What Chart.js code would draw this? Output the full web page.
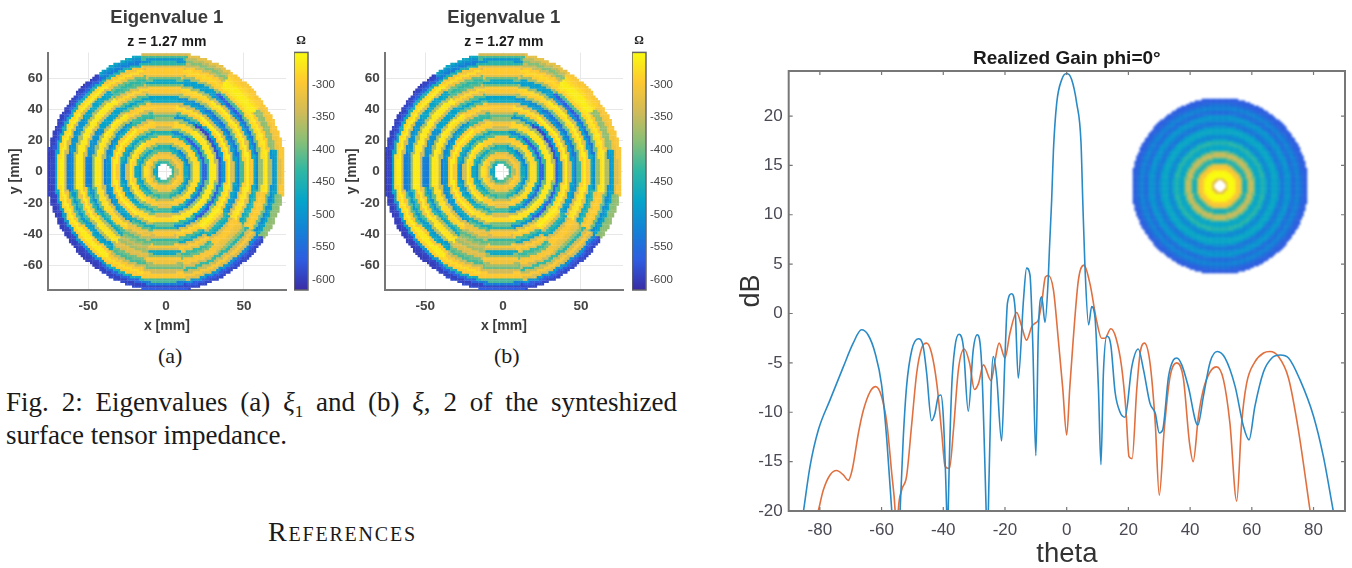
<!DOCTYPE html>
<html lang="en">
<head>
  <meta charset="UTF-8">
  <title>Eigenvalues and Realized Gain</title>
  <script src="https://cdn.jsdelivr.net/npm/chart.js"></script>
  <style>
    html, body {
      margin: 0;
      padding: 0;
      width: 1352px;
      height: 568px;
      overflow: hidden;
      background: #fff;
    }
    canvas {
      position: absolute;
      filter: blur(0.45px);
    }
    #inset {
      filter: blur(1px);
    }
    .txt {
      position: absolute;
      font-family: "Liberation Serif", serif;
      color: #1a1a1a;
      white-space: nowrap;
    }
    #caption {
      position: absolute;
      left: 6px;
      top: 386px;
      width: 671px;
      font-family: "Liberation Serif", serif;
      font-size: 27px;
      line-height: 33px;
      color: #1a1a1a;
      text-align: justify;
    }
    #caption .line1 {
      display: block;
      white-space: nowrap;
      text-align-last: justify;
    }
    #caption sub {
      font-size: 17px;
      line-height: 0;
    }
  </style>
</head>
<body>
  <canvas id="heatA" style="left:0;top:0;width:292px;height:335px"></canvas>
  <canvas id="barA" style="left:294px;top:0;width:46px;height:335px"></canvas>
  <canvas id="heatB" style="left:337.4px;top:0;width:292px;height:335px"></canvas>
  <canvas id="barB" style="left:631.5px;top:0;width:46px;height:335px"></canvas>
  <canvas id="gain" style="left:720px;top:0;width:632px;height:568px"></canvas>
  <canvas id="inset" style="left:1130px;top:96px;width:180px;height:180px"></canvas>

  <div class="txt" style="left:158px;top:343px;font-size:22px">(a)</div>
  <div class="txt" style="left:494px;top:343px;font-size:22px">(b)</div>
  <div id="caption">
    <span class="line1">Fig. 2: Eigenvalues (a) <i>ξ</i><sub>1</sub> and (b) <i>ξ</i>, 2 of the synteshized</span>
    surface tensor impedance.
  </div>
  <div class="txt" style="left:268px;top:516px;font-size:28px;letter-spacing:1.8px;font-variant:small-caps">References</div>

  <script>
    // radial profiles of the impedance (ohm), one per direction, 2 mm bins from the centre
    const profileE   = [null,null,null,-440,-370,-300,-320,-470,-510,-380,-275,-280,-440,-560,-420,-270,-265,-350,-570,-500,-300,-262,-330,-480,-530,-420,-290,-262,-300,-470,-510,-380,-275,-265,-360,-500,-480,-330,-300];
    const profileENE = [null,null,null,-430,-360,-300,-325,-470,-515,-380,-278,-285,-445,-565,-425,-272,-266,-360,-580,-490,-295,-262,-335,-490,-535,-410,-288,-263,-320,-485,-540,-400,-282,-268,-300,-380,-380,-310,-300];
    const profileNE  = [null,null,null,-420,-350,-300,-330,-470,-520,-380,-280,-290,-450,-570,-430,-275,-268,-370,-590,-480,-290,-262,-340,-500,-540,-400,-285,-265,-340,-500,-570,-420,-290,-270,-262,-265,-280,-290,-300];
    const profileNNE = [null,null,null,-425,-360,-302,-330,-445,-480,-370,-290,-300,-440,-510,-390,-285,-285,-375,-500,-415,-298,-278,-340,-485,-510,-375,-292,-282,-370,-485,-485,-370,-292,-282,-296,-350,-390,-355,-320];
    const profileN   = [null,null,null,-430,-370,-305,-330,-420,-440,-360,-300,-310,-430,-450,-350,-300,-310,-380,-410,-350,-305,-295,-340,-470,-480,-350,-300,-300,-400,-470,-400,-320,-295,-295,-330,-440,-500,-420,-340];
    const profileNNW = [null,null,null,-445,-375,-302,-310,-410,-455,-380,-292,-290,-415,-465,-385,-295,-288,-340,-435,-425,-338,-288,-302,-410,-480,-415,-320,-285,-332,-415,-435,-400,-312,-280,-308,-450,-530,-505,-470];
    const profileNW  = [null,null,null,-460,-380,-300,-290,-400,-470,-400,-285,-270,-400,-480,-420,-290,-265,-300,-460,-500,-370,-280,-265,-350,-480,-480,-340,-270,-265,-360,-470,-480,-330,-265,-285,-460,-560,-590,-600];
    const profileWNW = [null,null,null,-470,-365,-295,-282,-390,-485,-435,-288,-268,-370,-495,-455,-295,-264,-305,-480,-515,-360,-275,-265,-370,-505,-500,-340,-268,-265,-365,-495,-505,-335,-264,-282,-470,-575,-595,-595];
    const profileW   = [null,null,null,-480,-350,-290,-275,-380,-500,-470,-290,-265,-340,-510,-490,-300,-262,-310,-500,-530,-350,-270,-265,-390,-530,-520,-340,-265,-265,-370,-520,-530,-340,-262,-280,-480,-590,-600,-590];
    const profileWSW = [null,null,null,-465,-355,-295,-282,-385,-485,-450,-290,-268,-355,-495,-470,-295,-264,-310,-485,-510,-345,-275,-278,-405,-500,-440,-308,-266,-312,-430,-495,-415,-302,-264,-285,-490,-590,-600,-595];
    const profileSW  = [null,null,null,-450,-360,-300,-290,-390,-470,-430,-290,-270,-370,-480,-450,-290,-265,-310,-470,-490,-340,-280,-290,-420,-470,-360,-275,-268,-360,-490,-470,-300,-265,-265,-290,-500,-590,-600,-600];
    const profileSSW = [null,null,null,-435,-375,-305,-305,-390,-440,-390,-295,-295,-395,-455,-390,-285,-275,-355,-455,-410,-320,-310,-360,-410,-385,-350,-372,-324,-330,-400,-420,-350,-302,-280,-295,-460,-560,-595,-585];
    const profileS   = [null,null,null,-420,-390,-310,-320,-390,-410,-350,-300,-320,-420,-430,-330,-280,-285,-400,-440,-330,-300,-340,-430,-400,-305,-340,-470,-380,-300,-310,-370,-400,-340,-295,-300,-420,-530,-590,-570];
    const profileSSE = [null,null,null,-410,-360,-300,-315,-410,-450,-360,-290,-300,-445,-490,-350,-272,-275,-430,-500,-345,-285,-300,-420,-470,-340,-295,-320,-430,-400,-305,-300,-340,-430,-350,-300,-330,-500,-570,-590];
    const profileSE  = [null,null,null,-400,-330,-290,-310,-430,-490,-370,-275,-285,-470,-540,-380,-265,-280,-480,-570,-390,-275,-262,-280,-340,-440,-470,-340,-300,-295,-310,-320,-380,-440,-340,-300,-340,-510,-570,-590];
    const profileESE = [null,null,null,-420,-350,-295,-315,-450,-500,-375,-278,-280,-460,-550,-400,-268,-268,-400,-560,-440,-285,-265,-320,-480,-500,-340,-275,-268,-320,-470,-440,-310,-290,-300,-400,-510,-480,-390,-380];
    const sectors = [profileE, profileENE, profileNE, profileNNE, profileN, profileNNW, profileNW, profileWNW,
                     profileW, profileWSW, profileSW, profileSSW, profileS, profileSSE, profileSE, profileESE];

    // same idea for the small inset, colour position 0..1
    const insetProfile = [null,null,null,0.8,1,1,1,0.95,0.86,0.85,0.6,0.42,0.55,0.72,0.74,0.6,0.4,0.38,0.42,0.5,0.4,0.28,0.28,0.36,0.4,0.38,0.3,0.2,0.24,0.3,0.34,0.27,0.18,0.22,0.27,0.22,0.17,0.14,0.13];

    const heatXTicks = [-50, 0, 50];
    const heatYTicks = [-60, -40, -20, 0, 20, 40, 60];
    const barTicks = [-600, -550, -500, -450, -400, -350, -300];
    const barRange = [-616, -250];
    const parula = ['#3a2ca5','#2f5ce0','#1481d6','#06a4ca','#2eb7a4','#87bf77','#d1bb59','#fec832','#f9fb0e'];

    const gainXTicks = [-80, -60, -40, -20, 0, 20, 40, 60, 80];
    const gainYTicks = [-20, -15, -10, -5, 0, 5, 10, 15, 20];

    const blueTheta = [-85.3,-83.2,-80.5,-76.7,-72.4,-69.2,-66.5,-64.3,-62.1,-60,-58.3,-56.7,-55.4,-54,-53,-51.9,-50.2,-48.1,-46.5,-45.4,-43.8,-42.7,-41.6,-40.8,-40,-38.9,-38.6,-38.4,-37.3,-36.2,-34.9,-33.5,-31.9,-30.3,-29,-27.6,-26.1,-25.7,-25.4,-24.5,-23.8,-22.7,-21.1,-20,-19.2,-17.8,-16.7,-15.7,-14,-13,-11.9,-11,-10,-9.2,-8.1,-7.03,-5.95,-5.6,-4.87,-4.3,-3.24,-1.6,0,1.6,3.24,4.64,5.2,5.9,7.1,8.1,9.2,10.3,11.1,11.9,13,14.3,15.7,17.3,18.9,21.1,23.2,24.9,27,28.7,30,31.1,33,34.6,35.7,37.3,39.4,42.5,44.3,46.5,48.8,51.3,54.6,57.3,59.1,61,63.8,66.5,69.2,71.9,75.6,80,83.2,86.4];
    const blueGain  = [-20,-15.5,-11.8,-8.75,-5.4,-3,-1.65,-2.2,-4,-7.2,-12.8,-20,-26,-20,-12.8,-7.4,-3.7,-2.55,-3.35,-6,-10.85,-10.1,-8.4,-8.25,-10.4,-20,-24,-20,-7.7,-3.35,-2.1,-3.35,-9.9,-3.7,-2.15,-5,-20,-25,-20,-7.7,-4.35,-6.4,-12.9,-4.35,1.05,2,0.4,-6.55,1.4,4.6,3.9,-3,-14.4,-2,1.7,-0.9,3.75,6.5,11.5,16.5,21.3,23.7,24.3,23.7,21.3,17.3,11.5,4.9,-1.15,0.7,-0.5,-7.7,-15.3,-6,-2.3,-3.2,-8,-10,-10.5,-5.4,-3.6,-5.7,-9.1,-10.1,-12.1,-11.8,-6.4,-4.7,-4.5,-5.2,-7.4,-11.3,-8.4,-4.9,-3.85,-4.5,-7.4,-11.45,-12.8,-9.4,-5.9,-4.5,-4.2,-4.5,-6.7,-10.4,-14.5,-20];

    const redTheta = [-80.5,-78.9,-76.7,-74.6,-72.4,-70.8,-69.5,-67.5,-65.9,-63.7,-61.9,-60,-58.3,-56.7,-55.6,-55.1,-54.6,-53.5,-51.9,-50.2,-48.6,-47,-45.4,-43.8,-42.1,-40.5,-39.4,-38,-36.7,-35.1,-33.2,-31.5,-29.9,-28.6,-27,-24.5,-23.2,-21.9,-20,-18.4,-16.2,-14.6,-13,-11.3,-10.3,-9.2,-8.1,-6.9,-5.95,-4.3,-2.7,-1.3,0,1,2.1,3.8,5.6,7.55,9.7,11.3,12.4,14.3,16,17.8,19.2,20.2,21.2,22.7,23.8,25.2,27,28.7,30,31.6,33.5,35.7,37.8,39.8,41,42.7,44.3,46.5,48.6,50.8,52.9,55.1,56.7,58.3,61,63.8,65.9,68.6,71.9,75.1,78.9];
    const redGain  = [-20,-17.9,-16.35,-15.9,-16.35,-16.9,-15.8,-12.1,-9.8,-7.9,-7.4,-8.4,-11.1,-16.2,-20,-24,-20,-17.9,-16.5,-11.1,-6,-3.5,-3,-4,-7.1,-12.1,-15.5,-15.7,-11.8,-5.7,-3.6,-5,-7.7,-7.1,-5.2,-6.8,-4.7,-3,-4.5,-2,0.1,-1.3,-2.7,-1.3,-1,-0.65,1.05,3.7,3.85,2.4,-2.7,-7.5,-12.3,-7.5,-2.7,3.4,4.9,3,-0.75,-2.5,-2.5,-1.55,-2.5,-5.4,-9.8,-14.5,-14.7,-7.7,-4,-3,-5,-11.1,-18.4,-11.8,-6.4,-5,-6.55,-13.1,-15,-10.4,-7.7,-5.9,-5.4,-6.7,-11.1,-19,-11.1,-7.1,-4.9,-4,-3.85,-4.35,-6.55,-11.8,-20];

    const CELL = 1.5;         // mm, size of a map cell
    const DISC = 76.5;        // mm, disc radius
    const RING_SHIFT = -1;    // mm, rings sit a bit left of the disc centre

    function hexToRgb(h) {
      return [1, 3, 5].map(i => parseInt(h.slice(i, i + 2), 16));
    }
    function parulaColor(t) {
      t = Math.min(1, Math.max(0, t));
      const p = t * (parula.length - 1);
      const i = Math.min(parula.length - 2, Math.floor(p));
      const a = hexToRgb(parula[i]), b = hexToRgb(parula[i + 1]);
      const f = p - i;
      return `rgb(${a.map((v, k) => Math.round(v + (b[k] - v) * f)).join(',')})`;
    }

    // map cells, each one looks its value up in the profile of its direction
    function heatCells() {
      const points = [], colors = [];
      for (let x = -75; x <= 75; x += CELL) {
        for (let y = -75; y <= 75; y += CELL) {
          if (Math.hypot(x, y) > DISC) continue;
          const dx = x - RING_SHIFT;
          const r = Math.hypot(dx, y);
          const sector = (Math.round(Math.atan2(y, dx) / (Math.PI / 8)) + 16) % 16;
          const v = sectors[sector][Math.min(38, Math.round(r / 2))];
          if (v === null) continue;
          points.push({ x, y });
          colors.push(parulaColor((v - barRange[0]) / (barRange[1] - barRange[0])));
        }
      }
      return { points, colors };
    }
    function insetCells() {
      const points = [], colors = [];
      for (let x = -75; x <= 75; x += CELL) {
        for (let y = -75; y <= 75; y += CELL) {
          const r = Math.hypot(x, y);
          if (r > DISC) continue;
          const v = insetProfile[Math.min(38, Math.round(r / 2))];
          if (v === null) continue;
          points.push({ x, y });
          colors.push(parulaColor(v));
        }
      }
      return { points, colors };
    }

    // matlab style box with inward ticks
    const framePlugin = {
      id: 'frame',
      afterDatasetsDraw(chart, args, opts) {
        if (!opts.color) return;
        const { ctx, chartArea: a, scales } = chart;
        ctx.save();
        ctx.strokeStyle = opts.color;
        ctx.lineWidth = opts.width;
        ctx.strokeRect(a.left, a.top, a.right - a.left, a.bottom - a.top);
        const len = opts.tick;
        ctx.lineWidth = 1.2;
        ctx.beginPath();
        if (len) {
          scales.x.ticks.forEach(t => {
            const px = scales.x.getPixelForValue(t.value);
            ctx.moveTo(px, a.top); ctx.lineTo(px, a.top + len);
            ctx.moveTo(px, a.bottom); ctx.lineTo(px, a.bottom - len);
          });
          scales.y.ticks.forEach(t => {
            const py = scales.y.getPixelForValue(t.value);
            ctx.moveTo(a.left, py); ctx.lineTo(a.left + len, py);
            ctx.moveTo(a.right, py); ctx.lineTo(a.right - len, py);
          });
        }
        ctx.stroke();
        ctx.restore();
      }
    };

    const sans = '"Liberation Sans", Arial, sans-serif';
    const cells = heatCells();

    function makeHeat(id) {
      return new Chart(document.getElementById(id), {
        type: 'scatter',
        data: {
          datasets: [{
            data: cells.points,
            backgroundColor: cells.colors,
            borderWidth: 0,
            pointStyle: 'rect',
            pointRadius: 1.9,
            pointHoverRadius: 1.9
          }]
        },
        options: {
          responsive: false,
          animation: false,
          layout: { padding: { right: 6 } },
          plugins: {
            legend: { display: false },
            tooltip: { enabled: false },
            title: {
              display: true,
              fullSize: false,
              text: 'Eigenvalue 1',
              color: '#3a3a3a',
              font: { family: sans, size: 18.5, weight: 'bold' },
              padding: { top: 7, bottom: 4.4 }
            },
            subtitle: {
              display: true,
              fullSize: false,
              text: 'z = 1.27 mm',
              color: '#1a1a1a',
              font: { family: sans, size: 14, weight: 'bold' },
              padding: { top: 0, bottom: 2.1 }
            }
          },
          scales: {
            x: {
              type: 'linear',
              min: -76,
              max: 77,
              afterBuildTicks(s) { s.ticks = heatXTicks.map(value => ({ value })); },
              afterFit(s) { s.height = 45; },
              grid: { color: '#e8e8e8', drawTicks: false },
              border: { color: '#777', width: 2 },
              ticks: { color: '#444', padding: 8, maxRotation: 0, autoSkip: false, font: { family: sans, size: 13.5, weight: 'bold' } },
              title: { display: true, text: 'x [mm]', color: '#3a3a3a', padding: { top: 4.6, bottom: 0 }, font: { family: sans, size: 14, weight: 'bold' } }
            },
            y: {
              type: 'linear',
              min: -75.8,
              max: 76.4,
              afterBuildTicks(s) { s.ticks = heatYTicks.map(value => ({ value })); },
              afterFit(s) { s.width = 47.7; },
              grid: { color: '#e8e8e8', drawTicks: false },
              border: { color: '#777', width: 2 },
              ticks: { color: '#444', padding: 5, autoSkip: false, font: { family: sans, size: 13.5, weight: 'bold' } },
              title: { display: true, text: 'y [mm]', color: '#3a3a3a', padding: { top: 6.6, bottom: 0 }, font: { family: sans, size: 14, weight: 'bold' } }
            }
          }
        }
      });
    }

    function makeBar(id) {
      return new Chart(document.getElementById(id), {
        type: 'bar',
        data: {
          labels: [''],
          datasets: [{
            data: [barRange],
            barPercentage: 1,
            categoryPercentage: 1,
            borderWidth: 0,
            backgroundColor(ctx) {
              const a = ctx.chart.chartArea;
              if (!a) return parula[0];
              const g = ctx.chart.ctx.createLinearGradient(0, a.bottom, 0, a.top);
              parula.forEach((c, i) => g.addColorStop(i / (parula.length - 1), c));
              return g;
            }
          }]
        },
        plugins: [framePlugin],
        options: {
          responsive: false,
          animation: false,
          layout: { padding: { bottom: 45 } },
          plugins: {
            legend: { display: false },
            tooltip: { enabled: false },
            frame: { color: '#666', width: 1.5, tick: 0 },
            title: {
              display: true,
              fullSize: false,
              text: 'Ω',
              color: '#222',
              font: { family: '"Liberation Serif", serif', size: 12, weight: 'bold' },
              padding: { top: 34, bottom: 4 }
            }
          },
          scales: {
            x: { display: false },
            y: {
              position: 'right',
              min: barRange[0],
              max: barRange[1],
              afterBuildTicks(s) { s.ticks = barTicks.map(value => ({ value })); },
              afterFit(s) { s.width = 32; },
              grid: { display: false, drawTicks: false },
              border: { display: false },
              ticks: { color: '#444', padding: 4, autoSkip: false, font: { family: sans, size: 11.5 } }
            }
          }
        }
      });
    }

    makeHeat('heatA');
    makeBar('barA');
    makeHeat('heatB');
    makeBar('barB');

    new Chart(document.getElementById('gain'), {
      type: 'scatter',
      data: {
        datasets: [
          {
            data: blueTheta.map((x, i) => ({ x, y: blueGain[i] })),
            showLine: true,
            borderColor: '#2a8ac6',
            borderWidth: 1.6,
            pointRadius: 0,
            cubicInterpolationMode: 'monotone'
          },
          {
            data: redTheta.map((x, i) => ({ x, y: redGain[i] })),
            showLine: true,
            borderColor: '#e0703f',
            borderWidth: 1.6,
            pointRadius: 0,
            cubicInterpolationMode: 'monotone'
          }
        ]
      },
      plugins: [framePlugin],
      options: {
        responsive: false,
        animation: false,
        layout: { padding: { right: 7 } },
        plugins: {
          legend: { display: false },
          tooltip: { enabled: false },
          frame: { color: '#777', width: 2, tick: 4 },
          title: {
            display: true,
            fullSize: false,
            text: 'Realized Gain phi=0°',
            color: '#1a1a1a',
            font: { family: sans, size: 19, weight: 'bold' },
            padding: { top: 47, bottom: 1.2 }
          }
        },
        scales: {
          x: {
            type: 'linear',
            min: -90.1,
            max: 90.2,
            afterBuildTicks(s) { s.ticks = gainXTicks.map(value => ({ value })); },
            afterFit(s) { s.height = 57; },
            grid: { display: false, drawTicks: false },
            border: { display: false },
            ticks: { color: '#4a4a55', padding: 9, maxRotation: 0, autoSkip: false, font: { family: sans, size: 17 } },
            title: { display: true, text: 'theta', color: '#333', padding: { top: 2, bottom: 0 }, font: { family: sans, size: 27.5, lineHeight: 1 } }
          },
          y: {
            type: 'linear',
            min: -20,
            max: 24.56,
            afterBuildTicks(s) { s.ticks = gainYTicks.map(value => ({ value })); },
            afterFit(s) { s.width = 68.7; },
            grid: { display: false, drawTicks: false },
            border: { display: false },
            ticks: { color: '#4a4a55', padding: 6, autoSkip: false, font: { family: sans, size: 17 } },
            title: { display: true, text: 'dB', color: '#333', padding: { top: 18, bottom: 0 }, font: { family: sans, size: 27, lineHeight: 1 } }
          }
        }
      }
    });

    const inset = insetCells();
    new Chart(document.getElementById('inset'), {
      type: 'scatter',
      data: {
        datasets: [{
          data: inset.points,
          backgroundColor: inset.colors,
          borderWidth: 0,
          pointStyle: 'rect',
          pointRadius: 1.6,
          pointHoverRadius: 1.6
        }]
      },
      options: {
        responsive: false,
        animation: false,
        plugins: { legend: { display: false }, tooltip: { enabled: false } },
        scales: {
          x: { type: 'linear', display: false, min: -77, max: 77 },
          y: { type: 'linear', display: false, min: -77, max: 77 }
        }
      }
    });
  </script>
</body>
</html>
